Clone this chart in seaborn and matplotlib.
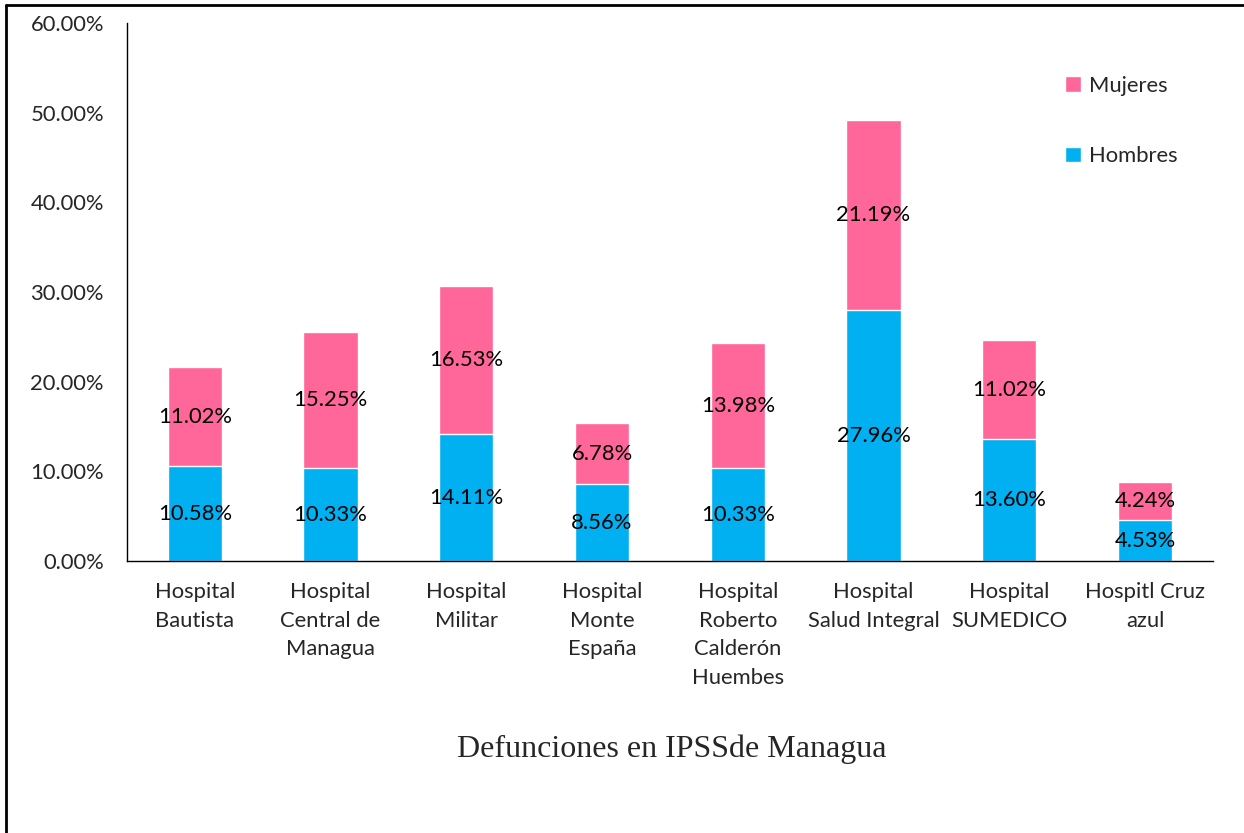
import numpy as np
import pandas as pd
import seaborn as sns
import matplotlib
matplotlib.use('Agg')
import matplotlib.pyplot as plt
from matplotlib.patches import Patch
from matplotlib.lines import Line2D
from matplotlib.ticker import FuncFormatter

hospitales = ['Hospital\nBautista', 'Hospital\nCentral de\nManagua', 'Hospital\nMilitar',
              'Hospital\nMonte\nEspaña', 'Hospital\nRoberto\nCalderón\nHuembes',
              'Hospital\nSalud Integral', 'Hospital\nSUMEDICO', 'Hospitl Cruz\nazul']
hombres = [10.58, 10.33, 14.11, 8.56, 10.33, 27.96, 13.60, 4.53]
mujeres = [11.02, 15.25, 16.53, 6.78, 13.98, 21.19, 11.02, 4.24]

azul = '#00B0F0'
rosa = '#FF6699'

df = pd.DataFrame({'hospital': hospitales, 'Hombres': hombres, 'Mujeres': mujeres})
df['total'] = df['Hombres'] + df['Mujeres']

sns.set_style('white')
plt.rcParams['font.family'] = ['Lato', 'DejaVu Sans']
fs = 15.8

fig = plt.figure(figsize=(12.44, 8.33), dpi=100)
ax = fig.add_axes([0.102, 0.3265, 0.873, 0.646])

# stacked: total in pink, hombres on top in blue
sns.barplot(data=df, x='hospital', y='total', color=rosa, width=0.4,
            saturation=1, ax=ax)
sns.barplot(data=df, x='hospital', y='Hombres', color=azul, width=0.4,
            saturation=1, ax=ax)

for i, row in df.iterrows():
    ax.text(i, row['Hombres'] / 2, '{:.2f}%'.format(row['Hombres']),
            ha='center', va='center', fontsize=fs, color='black')
    ax.text(i, row['Hombres'] + row['Mujeres'] / 2, '{:.2f}%'.format(row['Mujeres']),
            ha='center', va='center', fontsize=fs, color='black')

ax.set_ylim(0, 60)
ax.set_xlim(-0.5, len(hospitales) - 0.5)
ax.set_yticks(np.arange(0, 61, 10))
ax.yaxis.set_major_formatter(FuncFormatter(lambda v, p: '{:.2f}%'.format(v)))
ax.set_xlabel('')
ax.set_ylabel('')
ax.tick_params(axis='y', length=0, pad=16.5, labelsize=fs)
ax.tick_params(axis='x', length=0, pad=15, labelsize=fs)
for lbl in ax.get_xticklabels():
    lbl.set_linespacing(1.55)
    lbl.set_verticalalignment('top')

for s in ['top', 'right']:
    ax.spines[s].set_visible(False)
for s in ['left', 'bottom']:
    ax.spines[s].set_color('black')
    ax.spines[s].set_linewidth(1.0)

handles = [Patch(facecolor=rosa, label='Mujeres'), Patch(facecolor=azul, label='Hombres')]
fig.legend(handles=handles, loc='upper left', bbox_to_anchor=(0.84, 0.933),
           frameon=False, fontsize=fs, handlelength=0.72, handleheight=0.72,
           handletextpad=0.4, labelspacing=2.3)

fig.text(0.54, 0.1, 'Defunciones en IPSSde Managua', ha='center', va='center',
         fontsize=23, family=['Liberation Serif', 'DejaVu Serif'])

# outer frame (left and top edges)
fig.add_artist(Line2D([0.005, 0.005], [0, 0.994], transform=fig.transFigure,
                      color='black', linewidth=2))
fig.add_artist(Line2D([0.005, 1], [0.994, 0.994], transform=fig.transFigure,
                      color='black', linewidth=2))

fig.savefig('out.png', dpi=100)
